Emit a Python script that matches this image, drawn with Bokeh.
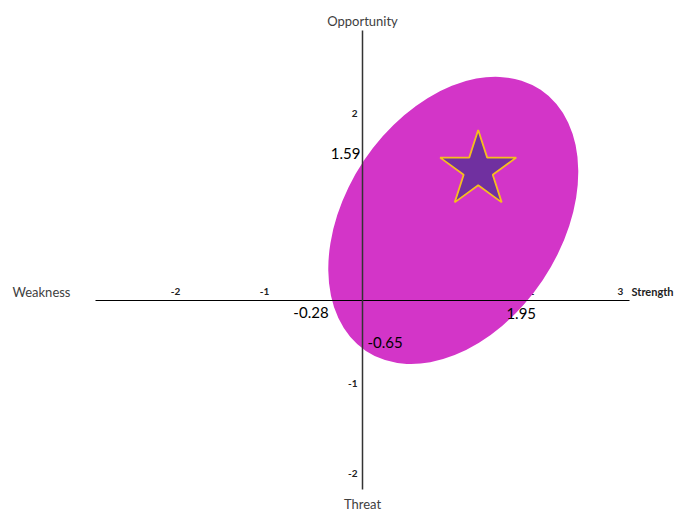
import math
from bokeh.plotting import figure
from bokeh.models import Range1d
from bokeh.core.properties import value
from bokeh.embed import file_html
from bokeh.resources import INLINE

# ---- data ----
x_tick_values = [-2, -1, 1, 2, 3]
y_tick_values = [-2, -1, 1, 2]
x_axis_extent = [-3.0, 3.0]
y_axis_extent = [-2.1, 3.0]
x_intercepts = [-0.28, 1.95]
y_intercepts = [1.59, -0.65]
ellipse_cx = [1.02]
ellipse_cy = [0.89]
ellipse_w = [3.53]
ellipse_h = [2.39]
ellipse_angle_deg = [56.2]
star_x = [1.30]
star_y = [1.45]
axis_titles = ["Weakness", "Strength", "Opportunity", "Threat"]

FONT = value("Lato")

p = figure(width=674, height=511, output_backend="svg", toolbar_location=None,
           x_range=Range1d(-4.0674, 3.5056), y_range=Range1d(-2.3444, 3.3333),
           x_axis_location=None, y_axis_location=None, min_border=0,
           outline_line_color=None, background_fill_color="white")
p.grid.visible = False

# tick labels (drawn first, the ellipse covers some of them)
p.text(x=x_tick_values, y=[0] * len(x_tick_values), text=[str(v) for v in x_tick_values],
       text_font=FONT, text_font_size="10px", text_font_style="bold", text_color="#222222",
       text_align="center", text_baseline="middle", x_offset=-9, y_offset=-9)
p.text(x=[0] * len(y_tick_values), y=y_tick_values, text=[str(v) for v in y_tick_values],
       text_font=FONT, text_font_size="10px", text_font_style="bold", text_color="#222222",
       text_align="right", text_baseline="middle", x_offset=-5, y_offset=-7)

# ellipse
p.ellipse(x=ellipse_cx, y=ellipse_cy, width=ellipse_w, height=ellipse_h,
          angle=[math.radians(a) for a in ellipse_angle_deg],
          fill_color="#D335C8", line_color=None)

# axis lines
p.segment(x0=[x_axis_extent[0]], y0=[0], x1=[x_axis_extent[1]], y1=[0],
          line_color="black", line_width=1.2)
p.segment(x0=[0], y0=[y_axis_extent[0]], x1=[0], y1=[y_axis_extent[1]],
          line_color="#333333", line_width=1.5)

# star
p.scatter(x=star_x, y=star_y, marker="star", size=80,
          fill_color="#7030A0", line_color="#F5BE1E", line_width=1.8)

# intercept labels
p.text(x=[x_intercepts[0]], y=[0], text=[f"{x_intercepts[0]:.2f}"], text_font=FONT,
       text_font_size="15px", text_color="black", text_align="right",
       text_baseline="middle", x_offset=-9, y_offset=12)
p.text(x=[x_intercepts[1]], y=[0], text=[f"{x_intercepts[1]:.2f}"], text_font=FONT,
       text_font_size="15px", text_color="black", text_align="right",
       text_baseline="middle", x_offset=0, y_offset=13)
p.text(x=[0], y=[y_intercepts[0]], text=[f"{y_intercepts[0]:.2f}"], text_font=FONT,
       text_font_size="15px", text_color="black", text_align="right",
       text_baseline="middle", x_offset=-2, y_offset=-4)
p.text(x=[0], y=[y_intercepts[1]], text=[f"{y_intercepts[1]:.2f}"], text_font=FONT,
       text_font_size="15px", text_color="black", text_align="left",
       text_baseline="middle", x_offset=5, y_offset=-17)

# axis titles
p.text(x=[x_axis_extent[0]], y=[0], text=[axis_titles[0]], text_font=FONT,
       text_font_size="13px", text_color="#404040", text_align="right",
       text_baseline="middle", x_offset=-25, y_offset=-9)
p.text(x=[x_axis_extent[1]], y=[0], text=[axis_titles[1]], text_font=FONT,
       text_font_size="11px", text_font_style="bold", text_color="#222222",
       text_align="left", text_baseline="middle", x_offset=2, y_offset=-9)
p.text(x=[0], y=[y_axis_extent[1]], text=[axis_titles[2]], text_font=FONT,
       text_font_size="13px", text_color="#404040", text_align="center",
       text_baseline="middle", x_offset=0, y_offset=-9)
p.text(x=[0], y=[y_axis_extent[0]], text=[axis_titles[3]], text_font=FONT,
       text_font_size="13px", text_color="#404040", text_align="center",
       text_baseline="middle", x_offset=0, y_offset=14)

open("out.html", "w").write(file_html(p, INLINE))
